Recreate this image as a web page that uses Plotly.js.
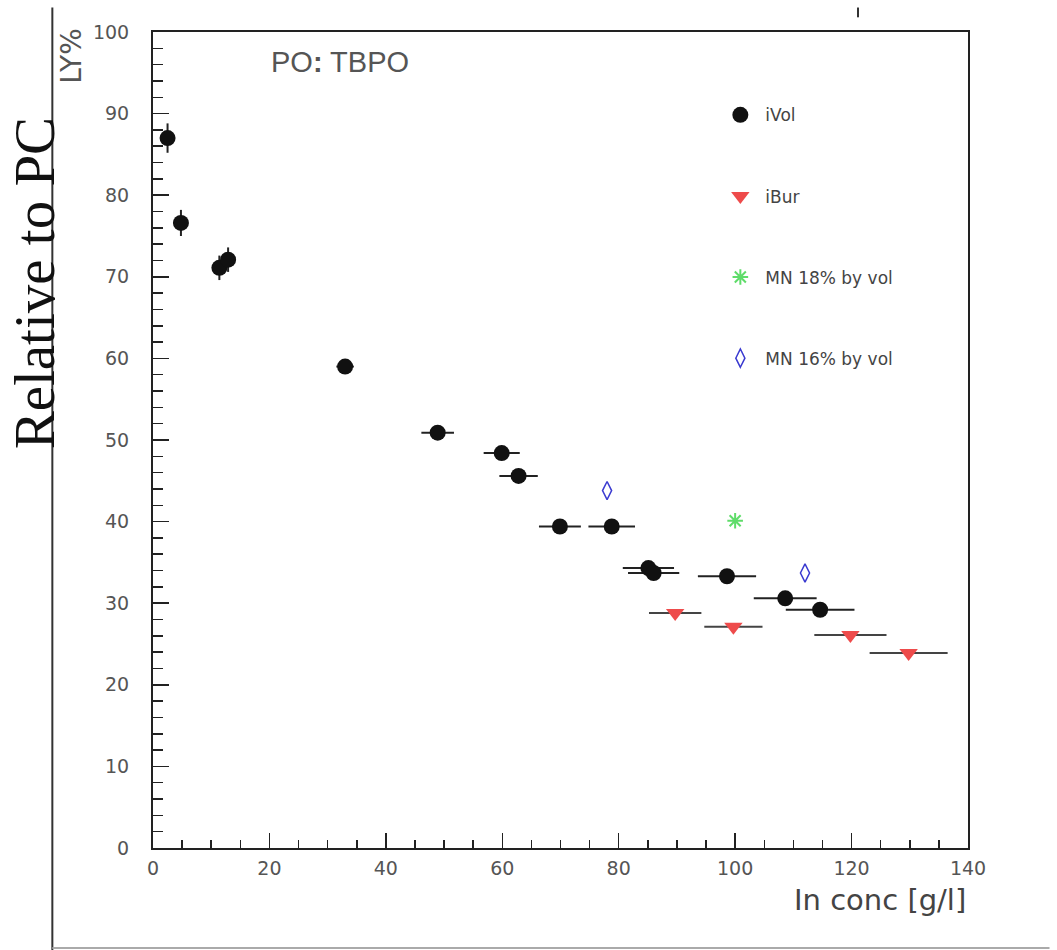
<!DOCTYPE html>
<html>
<head>
<meta charset="utf-8">
<script src="https://cdn.plot.ly/plotly-3.0.1.min.js"></script>
<style>html,body{margin:0;padding:0;background:#fff;}#chart{width:1057px;height:950px;}</style>
</head>
<body>
<div id="chart"></div>
<script>
// iVol series
const ivolX    = [2.5, 4.8, 11.4, 12.9, 33, 48.9, 59.9, 62.8, 69.9, 78.8, 85.1, 86.0, 98.6, 108.6, 114.6];
const ivolY    = [87, 76.6, 71.1, 72.1, 59, 50.9, 48.4, 45.6, 39.4, 39.4, 34.3, 33.7, 33.3, 30.6, 29.2];
const ivolXErr = [0.3, 0.3, 0.3, 0.3, 1.5, 2.8, 3.1, 3.3, 3.6, 4.0, 4.4, 4.4, 5.0, 5.4, 5.9];
const ivolYErr = [1.8, 1.6, 1.5, 1.5, 0.7, 0.6, 0.6, 0.6, 0.6, 0.6, 0.6, 0.6, 0.6, 0.6, 0.6];
// iBur series
const iburX    = [89.7, 99.7, 119.8, 129.8];
const iburY    = [28.8, 27.1, 26.1, 23.9];
const iburXErr = [4.5, 5.0, 6.2, 6.7];
// MN 18% by vol
const mn18X = [100];
const mn18Y = [40.1];
// MN 16% by vol
const mn16X = [78, 112];
const mn16Y = [43.8, 33.7];

const traces = [
  {
    x: ivolX, y: ivolY, name: 'iVol', type: 'scatter', mode: 'markers', legendgroup: 'a',
    marker: {symbol: 'circle', size: 16, color: '#111'},
    error_x: {type: 'data', array: ivolXErr, color: '#222', thickness: 2, width: 0},
    error_y: {type: 'data', array: ivolYErr, color: '#222', thickness: 2, width: 0}
  },
  {
    x: iburX, y: iburY, name: 'iBur', type: 'scatter', mode: 'markers', legendgroup: 'b',
    marker: {symbol: 'triangle-down', size: 16, color: '#ee4b4b'},
    error_x: {type: 'data', array: iburXErr, color: '#444', thickness: 2, width: 0}
  },
  {
    x: mn18X, y: mn18Y, name: 'MN 18% by vol', type: 'scatter', mode: 'markers', legendgroup: 'c',
    marker: {symbol: 'asterisk-open', size: 13, color: '#5fdc6a', line: {color: '#5fdc6a', width: 2}}
  },
  {
    x: mn16X, y: mn16Y, name: 'MN 16% by vol', type: 'scatter', mode: 'markers', legendgroup: 'd',
    marker: {symbol: 'diamond-tall-open', size: 13, color: '#3a3ad0', line: {color: '#3a3ad0', width: 1.5}}
  }
];

const tickFont = {family: 'DejaVu Sans, sans-serif', size: 19, color: '#555'};

const layout = {
  width: 1057, height: 950,
  paper_bgcolor: '#fff', plot_bgcolor: '#fff',
  margin: {l: 153, r: 89, t: 32, b: 102},
  showlegend: true,
  legend: {
    x: 0.69, y: 0.92, xanchor: 'left', yanchor: 'top',
    font: {family: 'DejaVu Sans, sans-serif', size: 17, color: '#444'},
    tracegroupgap: 56, itemwidth: 40, bgcolor: 'rgba(0,0,0,0)'
  },
  xaxis: {
    range: [0, 140], showgrid: false, zeroline: false,
    showline: true, linecolor: '#222', linewidth: 2, mirror: true,
    ticks: 'inside', ticklen: 15, tickcolor: '#222', tickwidth: 1.5,
    tick0: 0, dtick: 20, tickfont: tickFont, ticklabelstandoff: 2,
    minor: {ticks: 'inside', dtick: 5, ticklen: 8, tickcolor: '#222', tickwidth: 1.5, showgrid: false}
  },
  yaxis: {
    range: [0, 100], showgrid: false, zeroline: false,
    showline: true, linecolor: '#222', linewidth: 2, mirror: true,
    ticks: 'inside', ticklen: 16, tickcolor: '#222', tickwidth: 1.5,
    tick0: 0, dtick: 10, tickfont: tickFont, ticklabelstandoff: 18,
    minor: {ticks: 'inside', dtick: 2, ticklen: 10, tickcolor: '#222', tickwidth: 1.5, showgrid: false}
  },
  annotations: [
    {text: 'PO<b>:</b> TBPO', xref: 'paper', yref: 'paper', x: 0.142, y: 0.985, xanchor: 'left', yanchor: 'top',
     showarrow: false, font: {family: 'Liberation Sans, Arial, sans-serif', size: 29, color: '#555'}},
    {text: 'In conc [g/l]', xref: 'paper', yref: 'paper', x: 1.0, y: -0.04, xanchor: 'right', yanchor: 'top',
     showarrow: false, font: {family: 'DejaVu Sans, sans-serif', size: 29, color: '#444'}},
    {text: 'LY%', xref: 'paper', yref: 'paper', x: -0.1, y: 1.007, xanchor: 'center', yanchor: 'top',
     textangle: -90, showarrow: false, font: {family: 'DejaVu Sans, sans-serif', size: 28, color: '#555'}},
    {text: 'Relative to PC', xref: 'paper', yref: 'paper', x: -0.146, y: 0.692, xanchor: 'center', yanchor: 'middle',
     textangle: -90, showarrow: false, font: {family: 'Liberation Serif, Times New Roman, serif', size: 57, color: '#111'}}
  ],
  shapes: [
    {type: 'line', xref: 'paper', yref: 'paper', x0: -0.1235, x1: -0.1235, y0: 1.03, y1: -0.125, line: {color: '#333', width: 2}},
    {type: 'line', xref: 'paper', yref: 'paper', x0: -0.1235, x1: 1.1, y0: -0.1225, y1: -0.1225, line: {color: '#aaa', width: 2}},
    {type: 'line', xref: 'paper', yref: 'paper', x0: 0.865, x1: 0.865, y0: 1.03, y1: 1.018, line: {color: '#333', width: 2}}
  ]
};

Plotly.newPlot('chart', traces, layout, {displayModeBar: false, staticPlot: true});
</script>
</body>
</html>
